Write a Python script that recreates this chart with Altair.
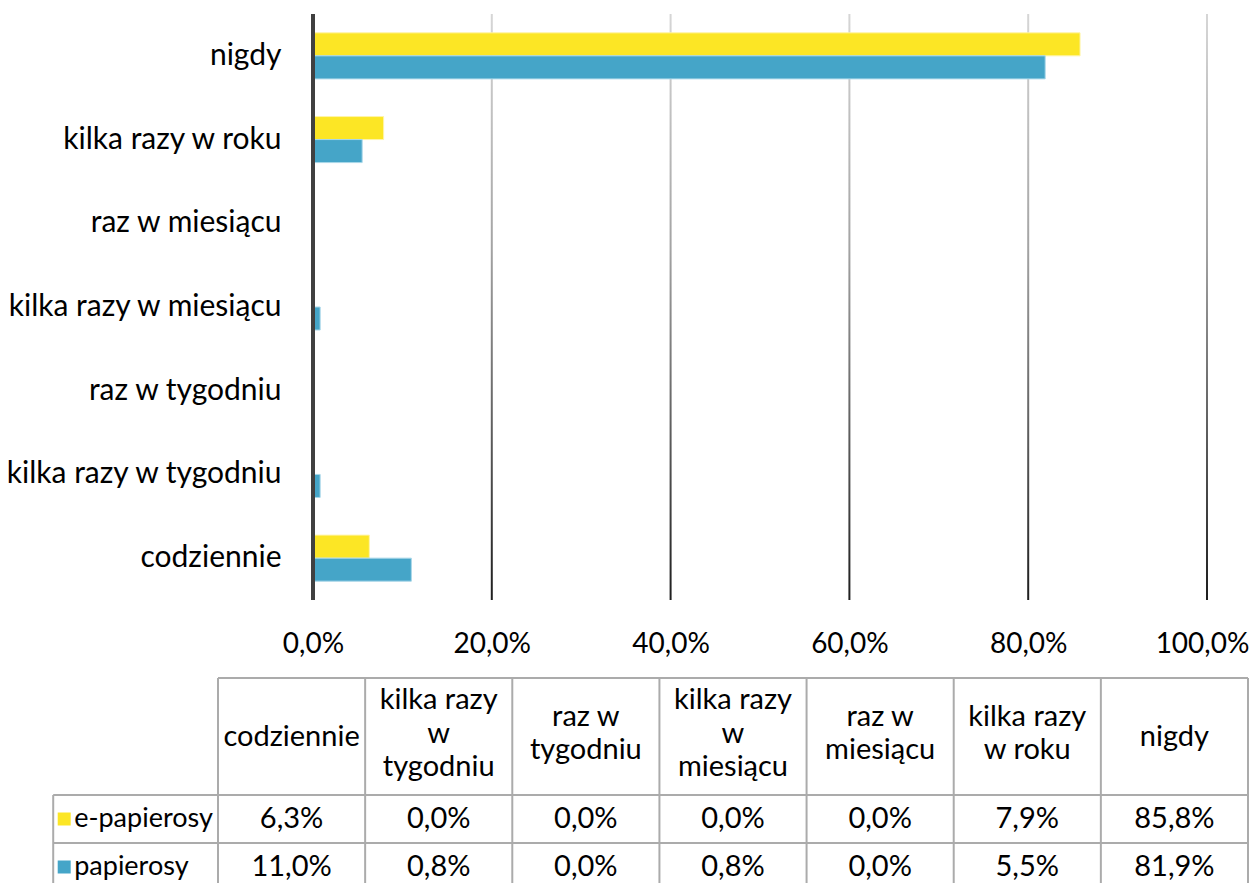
import altair as alt
import pandas as pd

# ---- data ----
categories = ["nigdy", "kilka razy w roku", "raz w miesiącu", "kilka razy w miesiącu",
              "raz w tygodniu", "kilka razy w tygodniu", "codziennie"]
e_papierosy = [85.8, 7.9, 0.0, 0.0, 0.0, 0.0, 6.3]
papierosy = [81.9, 5.5, 0.0, 0.8, 0.0, 0.8, 11.0]
series = ["e-papierosy", "papierosy"]
series_colors = ["#FCE625", "#45A5C8"]
series_strokes = ["#FFF4A8", "#A9D7E9"]
x_ticks = [0.0, 0.2, 0.4, 0.6, 0.8, 1.0]
# table header labels (table columns run in reverse category order)
table_headers = {
    "codziennie": ["codziennie"],
    "kilka razy w tygodniu": ["kilka razy", "w", "tygodniu"],
    "raz w tygodniu": ["raz w", "tygodniu"],
    "kilka razy w miesiącu": ["kilka razy", "w", "miesiącu"],
    "raz w miesiącu": ["raz w", "miesiącu"],
    "kilka razy w roku": ["kilka razy", "w roku"],
    "nigdy": ["nigdy"],
}

FONT = "Lato"
FS = 29
Y_FS = 30
AX_FS = 28
TXT = "#000000"
GRID = "#ababab"

# ---- bars ----
rows = []
for name, vals in zip(series, [e_papierosy, papierosy]):
    for c, v in zip(categories, vals):
        rows.append({"category": c, "series": name, "value": v / 100.0})
bars_df = pd.DataFrame(rows)

xscale = alt.Scale(domain=[0, 1], nice=False, zero=True)
bars = alt.Chart(bars_df).mark_bar(strokeWidth=1).encode(
    x=alt.X("value:Q", scale=xscale,
            axis=alt.Axis(values=x_ticks, title=None, grid=False, domain=False, ticks=False,
                          tickSize=0, labelPadding=30, labelFontSize=AX_FS, labelFont=FONT,
                          labelColor=TXT, labelFlush=False,
                          labelOffset={"condition": {"test": "datum.value >= 1", "value": -5},
                                       "value": 0},
                          labelExpr="replace(format(datum.value, '.1%'), '.', ',')")),
    y=alt.Y("category:N", sort=categories,
            scale=alt.Scale(paddingInner=0.45, paddingOuter=0.225),
            axis=alt.Axis(title=None, domain=False, ticks=False, tickSize=0, labelPadding=32,
                          labelFontSize=Y_FS, labelFont=FONT, labelColor=TXT, labelLimit=600)),
    yOffset=alt.YOffset("series:N", sort=series),
    color=alt.Color("series:N", scale=alt.Scale(domain=series, range=series_colors), legend=None),
    stroke=alt.Stroke("series:N", scale=alt.Scale(domain=series, range=series_strokes), legend=None),
)

grad = alt.Gradient(
    gradient="linear", x1=0, y1=0, x2=0, y2=1,
    stops=[alt.GradientStop(color="#d6d6d6", offset=0),
           alt.GradientStop(color="#a3a3a3", offset=0.4),
           alt.GradientStop(color="#1e1e1e", offset=1)],
)
grid_df = pd.DataFrame({"g": x_ticks[1:]})
gridlines = alt.Chart(grid_df).mark_rect(fill=grad, xOffset=-1, x2Offset=1).encode(
    x=alt.X("g:Q"), x2="g", y=alt.value(0), y2=alt.value(586),
)

zero_line = alt.Chart(pd.DataFrame({"z": [0.0]})).mark_rule(
    color="#404040", strokeWidth=4).encode(x=alt.X("z:Q"))

bar_group = alt.layer(gridlines, bars, zero_line)

# ---- data table ----
table_cats = categories[::-1]
ROW_PX = 48.0
HEADER_H = 117.0 / ROW_PX        # header row height in row units
LINE_H = 33.5 / ROW_PX           # header text line height in row units
LEGEND_W = 1.12                  # legend column width in column units
BOTTOM = HEADER_H + 2.3
tscale_x = alt.Scale(domain=[0, 7], range=[-95, 935], nice=False, zero=False)
tscale_y = alt.Scale(domain=[0, HEADER_H + 2], range=[664, 664 + 117 + 2 * ROW_PX],
                     nice=False, zero=False)

header_rows = []
for j, c in enumerate(table_cats):
    lines = table_headers[c]
    n = len(lines)
    center = HEADER_H / 2 - (0.06 if n > 1 else 0.0)
    for k, line in enumerate(lines):
        header_rows.append({"xc": j + 0.5,
                            "yc": center + (k - (n - 1) / 2) * LINE_H,
                            "label": line})
header_df = pd.DataFrame(header_rows)

cell_rows = []
for i, (name, vals) in enumerate(zip(series, [e_papierosy, papierosy])):
    lookup = dict(zip(categories, vals))
    for j, c in enumerate(table_cats):
        cell_rows.append({"xc": j + 0.5, "yc": HEADER_H + i + 0.5,
                          "label": f"{lookup[c]:.1f}%".replace(".", ",")})
cells_df = pd.DataFrame(cell_rows)
legend_df = pd.DataFrame({"series": series,
                          "x0": [-LEGEND_W] * len(series),
                          "yc": [HEADER_H + i + 0.5 for i in range(len(series))]})

vlines_df = pd.DataFrame({"x": [-LEGEND_W] + list(range(8)),
                          "y0": [HEADER_H] + [0.0] * 8,
                          "y1": [BOTTOM] * 9})
hlines_df = pd.DataFrame({"y": [0.0, HEADER_H, HEADER_H + 1, HEADER_H + 2],
                          "x0": [0.0, -LEGEND_W, -LEGEND_W, -LEGEND_W],
                          "x1": [7.0] * 4})

vlines = alt.Chart(vlines_df).mark_rule(color=GRID, strokeWidth=2).encode(
    x=alt.X("x:Q", scale=tscale_x, axis=None),
    y=alt.Y("y0:Q", scale=tscale_y, axis=None), y2="y1")
hlines = alt.Chart(hlines_df).mark_rule(color=GRID, strokeWidth=2).encode(
    x=alt.X("x0:Q"), x2="x1", y=alt.Y("y:Q"))
header_txt = alt.Chart(header_df).mark_text(
    font=FONT, fontSize=FS, color=TXT, align="center", baseline="middle").encode(
    x=alt.X("xc:Q"), y=alt.Y("yc:Q"), text="label:N")
cells_txt = alt.Chart(cells_df).mark_text(
    font=FONT, fontSize=FS, color=TXT, align="center", baseline="middle").encode(
    x=alt.X("xc:Q"), y=alt.Y("yc:Q"), text="label:N")
legend_sq = alt.Chart(legend_df).mark_square(size=169, filled=True, opacity=1, xOffset=11).encode(
    x=alt.X("x0:Q"), y=alt.Y("yc:Q"),
    color=alt.Color("series:N", scale=alt.Scale(domain=series, range=series_colors), legend=None))
legend_txt = alt.Chart(legend_df).mark_text(
    font=FONT, fontSize=27, color=TXT, align="left", baseline="middle", dx=21).encode(
    x=alt.X("x0:Q"), y=alt.Y("yc:Q"), text="series:N")

table_group = alt.layer(vlines, hlines, header_txt, cells_txt, legend_sq, legend_txt)

chart = alt.layer(bar_group, table_group).resolve_scale(
    x="independent", y="independent"
).properties(
    width=894, height=586,
    padding={"left": 305, "top": 6, "right": 42, "bottom": 283},
    autosize=alt.AutoSizeParams(type="none"),
).configure_view(stroke=None)

chart.save("out.html", embed_options={"renderer": "svg", "actions": False})
